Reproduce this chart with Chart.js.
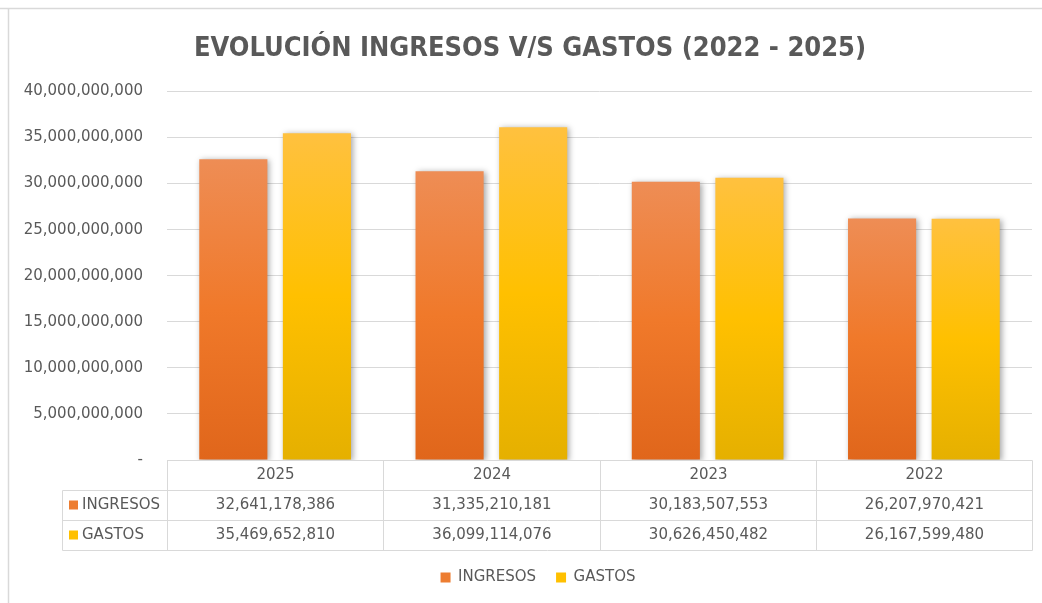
<!DOCTYPE html>
<html>
<head>
<meta charset="utf-8">
<script src="https://cdn.jsdelivr.net/npm/chart.js@4.4.1/dist/chart.umd.min.js"></script>
<style>
  html, body { margin: 0; padding: 0; background: #fff; }
  #wrap { position: relative; width: 1042px; height: 603px; }
</style>
</head>
<body>
<div id="wrap"><canvas id="chart" width="1042" height="603"></canvas></div>
<script>
const years = ['2025', '2024', '2023', '2022'];
const ingresos = [32641178386, 31335210181, 30183507553, 26207970421];
const gastos = [35469652810, 36099114076, 30626450482, 26167599480];
const yTicks = [0, 5e9, 10e9, 15e9, 20e9, 25e9, 30e9, 35e9, 40e9];

const TXT = '#595959';
const GRID = '#D9D9D9';
const FONT = 'DejaVu Sans';
const fmt = v => v === 0 ? '-' : v.toLocaleString('en-US');

function barGradient(stops, solid) {
  return (c) => {
    const chart = c.chart;
    if (c.type !== 'data' || !chart.chartArea || !chart.scales.y) return solid;
    const y = chart.scales.y;
    const top = y.getPixelForValue(c.raw);
    const bottom = y.getPixelForValue(0);
    const g = chart.ctx.createLinearGradient(0, top, 0, bottom);
    stops.forEach(s => g.addColorStop(s[0], s[1]));
    return g;
  };
}

const series = [
  { label: 'INGRESOS', data: ingresos, key: '#ED7D31',
    stops: [[0, '#EE8D55'], [0.5, '#F0792A'], [1, '#E0661B']] },
  { label: 'GASTOS', data: gastos, key: '#FFC000',
    stops: [[0, '#FFC13F'], [0.5, '#FFC000'], [1, '#E5B000']] }
];

// frame + shadows + data table under the plot
const extras = {
  id: 'extras',
  afterLayout(chart) {
    // nudge title and legend to sit where Excel put them
    if (chart.titleBlock) { chart.titleBlock.left += 4; chart.titleBlock.right += 4; }
    if (chart.legend) { chart.legend.left += 12; chart.legend.right += 12; }
  },
  beforeDraw(chart) {
    const ctx = chart.ctx;
    ctx.save();
    ctx.strokeStyle = GRID;
    ctx.lineWidth = 1.5;
    ctx.beginPath();
    ctx.moveTo(0, 8.5); ctx.lineTo(chart.width, 8.5);
    ctx.moveTo(8.5, 8.5); ctx.lineTo(8.5, chart.height);
    ctx.stroke();
    ctx.restore();
  },
  beforeDatasetsDraw(chart) {
    const ctx = chart.ctx;
    ctx.save();
    ctx.shadowColor = 'rgba(0,0,0,0.35)';
    ctx.shadowBlur = 6;
    ctx.shadowOffsetX = 2;
    ctx.shadowOffsetY = 1;
  },
  afterDatasetsDraw(chart) {
    chart.ctx.restore();
  },
  afterDraw(chart) {
    const ctx = chart.ctx;
    const x = chart.scales.x;
    const area = chart.chartArea;
    const top = Math.round(area.bottom) + 0.5;
    const rowH = 30;
    const labelLeft = 62.5;
    const left = Math.round(x.left) + 0.5;
    const right = Math.round(x.right) + 0.5;
    const bounds = [left];
    for (let i = 0; i < years.length - 1; i++) {
      bounds.push(Math.round((x.getPixelForValue(i) + x.getPixelForValue(i + 1)) / 2) + 0.5);
    }
    bounds.push(right);

    ctx.save();
    ctx.strokeStyle = GRID;
    ctx.lineWidth = 1;
    ctx.beginPath();
    ctx.moveTo(left, top); ctx.lineTo(right, top);
    for (let r = 1; r <= 3; r++) {
      ctx.moveTo(labelLeft, top + r * rowH); ctx.lineTo(right, top + r * rowH);
    }
    bounds.forEach(b => { ctx.moveTo(b, top); ctx.lineTo(b, top + 3 * rowH); });
    ctx.moveTo(labelLeft, top + rowH); ctx.lineTo(labelLeft, top + 3 * rowH);
    ctx.stroke();

    ctx.fillStyle = TXT;
    ctx.font = '15px "' + FONT + '"';
    ctx.textBaseline = 'middle';
    ctx.textAlign = 'center';
    years.forEach((yr, i) => {
      const cx = (bounds[i] + bounds[i + 1]) / 2;
      ctx.fillText(yr, cx, top + rowH / 2);
      series.forEach((s, k) => {
        ctx.fillText(fmt(s.data[i]), cx, top + rowH * (k + 1) + rowH / 2);
      });
    });
    ctx.textAlign = 'left';
    series.forEach((s, k) => {
      const cy = top + rowH * (k + 1) + rowH / 2;
      ctx.fillStyle = s.key;
      ctx.fillRect(69, cy - 5, 9, 9);
      ctx.fillStyle = TXT;
      ctx.fillText(s.label, 82, cy);
    });
    ctx.restore();
  }
};

new Chart(document.getElementById('chart'), {
  type: 'bar',
  data: {
    labels: years,
    datasets: series.map(s => ({
      label: s.label,
      data: s.data,
      backgroundColor: barGradient(s.stops, s.key),
      categoryPercentage: 0.773,
      barPercentage: 0.815
    }))
  },
  options: {
    responsive: false,
    animation: false,
    layout: { padding: { left: 20, right: 10, top: 0, bottom: 8 } },
    plugins: {
      tooltip: { enabled: false },
      title: {
        display: true,
        text: 'EVOLUCIÓN INGRESOS V/S GASTOS (2022 - 2025)',
        color: TXT,
        font: { family: 'DejaVu Sans Condensed', size: 27, weight: 'bold' },
        padding: { top: 33, bottom: 26 }
      },
      legend: {
        position: 'bottom',
        labels: {
          color: TXT,
          font: { family: FONT, size: 15 },
          boxWidth: 10,
          boxHeight: 10,
          padding: 20,
          generateLabels: () => series.map(s => ({
            text: s.label, fillStyle: s.key, strokeStyle: s.key, lineWidth: 0, fontColor: TXT
          }))
        }
      }
    },
    scales: {
      x: {
        grid: { display: false },
        border: { display: false },
        ticks: { display: false },
        afterFit: s => { s.height = 90; }
      },
      y: {
        min: 0,
        max: 40e9,
        afterBuildTicks: s => { s.ticks = yTicks.map(v => ({ value: v })); },
        grid: { color: GRID, lineWidth: 1, drawTicks: false },
        border: { display: false },
        ticks: {
          color: TXT,
          font: { family: FONT, size: 15 },
          padding: 24,
          callback: v => fmt(v)
        },
        afterFit: s => { s.width = 147; }
      }
    }
  },
  plugins: [extras]
});
</script>
</body>
</html>
